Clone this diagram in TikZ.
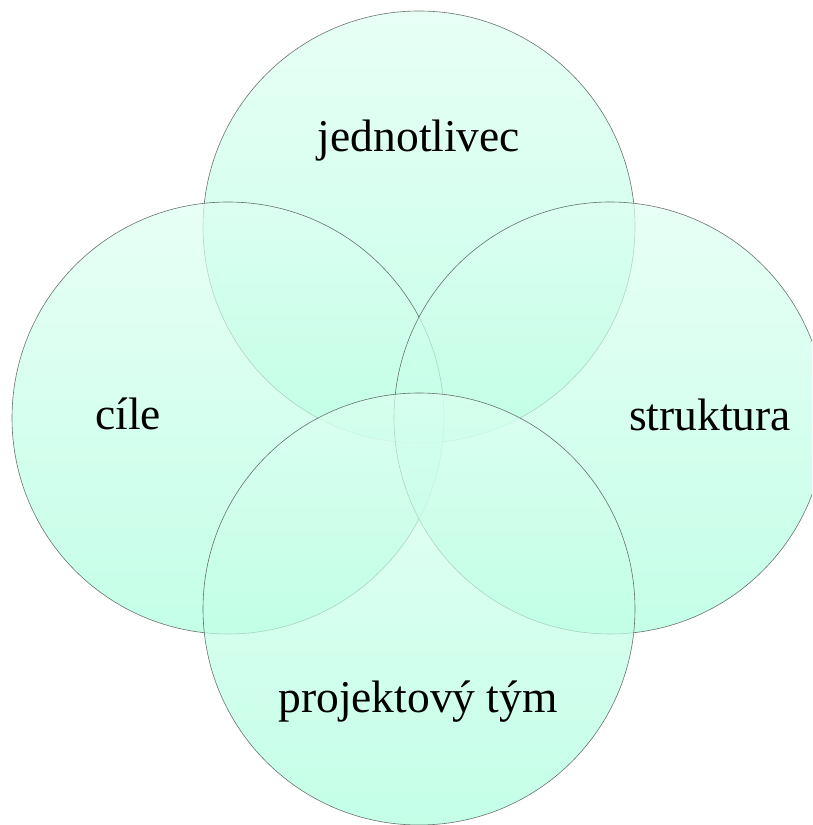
\documentclass[tikz,border=0pt]{standalone}
\usepackage{fontspec}
\setmainfont{Liberation Serif}
\definecolor{mintTop}{RGB}{222,255,242}
\definecolor{mintBot}{RGB}{171,255,222}
\definecolor{ringcol}{RGB}{80,90,86}
\tikzset{
  venn/.style={circle, minimum size=432pt, inner sep=0pt, top color=mintTop, bottom color=mintBot, fill opacity=0.7, draw=ringcol, draw opacity=0.85, line width=0.6pt},
  lbl/.style={font=\fontsize{45.5}{50}\selectfont, anchor=base, text=black}
}
\begin{document}
\begin{tikzpicture}[x=1pt,y=1pt]
\useasboundingbox (0,0) rectangle (812,825);
\clip (0,0) rectangle (812,825);
\node[venn] (top) at (419,598) {};
\node[venn] (left) at (228,407) {};
\node[venn] (right) at (610,407) {};
\node[venn] (bottom) at (419,216) {};
\node[lbl] (tjed) at (419,673) {jednotlivec};
\node[lbl] (tcil) at (128,395) {cíle};
\node[lbl] (tstr) at (710,394) {struktura};
\node[lbl] (tpro) at (418,112) {projektový tým};
\end{tikzpicture}
\end{document}
